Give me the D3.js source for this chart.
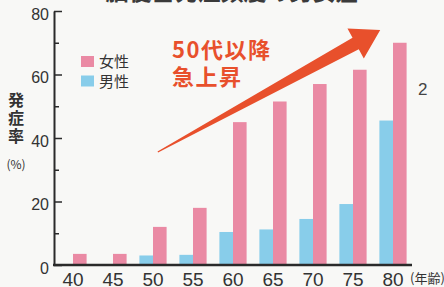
<!DOCTYPE html>
<html><head><meta charset="utf-8">
<script src="https://cdn.jsdelivr.net/npm/d3@7"></script>
<style>
html,body{margin:0;padding:0;background:#f8f8f6;overflow:hidden}
svg{display:block}
</style></head><body>
<svg id="c" width="444" height="287"></svg>
<script>
const ages = ["40","45","50","55","60","65","70","75","80"];
const female = [3.5,3.5,12,18,45,51.5,57,61.5,70];
const male = [0,0,3,3.2,10.4,11.2,14.5,19.2,45.5];
const yMajor = [0,20,40,60,80];
const yMinor = [10,30,50,70];
const titleText = "脳梗塞発症頻度の男女差";
const legendLabels = ["女性","男性"];
const annotLines = ["50代以降","急上昇"];
const arrowFrom = [50.6,35.6];
const arrowTo = [78.4,74];

const pink="#ea8aa4", blue="#88cdea", ink="#2a2a2a", red="#e8502c";
const svg=d3.select("#c");
const x=d3.scaleBand().domain(ages).range([53,413]);
const y=d3.scaleLinear().domain([0,80]).range([265,11]);
const bw=x.step()*0.34;
const xa=d3.scaleLinear().domain([40,80]).range([x("40")+x.bandwidth()/2,x("80")+x.bandwidth()/2]);
const cx=a=>x(a)+x.bandwidth()/2;

// title (cut off at top)
svg.append("text").attr("x",232).attr("y",0).attr("text-anchor","middle")
 .attr("font-family","Noto Sans CJK JP").attr("font-weight","bold").attr("font-size",23)
 .attr("fill","#3a3a3a").text(titleText);

// bars
svg.append("g").selectAll("rect").data(ages).join("rect")
 .attr("x",d=>cx(d)).attr("width",bw)
 .attr("y",(d,i)=>y(female[i])).attr("height",(d,i)=>y(0)-y(female[i])).attr("fill",pink);
svg.append("g").selectAll("rect").data(ages).join("rect")
 .attr("x",d=>cx(d)-bw).attr("width",bw)
 .attr("y",(d,i)=>y(male[i])).attr("height",(d,i)=>y(0)-y(male[i])).attr("fill",blue);

// y axis
const ya=svg.append("g").attr("transform","translate(54,0)")
 .call(d3.axisLeft(y).tickValues(yMajor).tickSizeInner(-8).tickSizeOuter(0).tickPadding(5));
ya.select(".domain").attr("stroke",ink).attr("stroke-width",2);
ya.selectAll(".tick line").attr("stroke",ink).attr("stroke-width",1.5);
ya.selectAll(".tick text").attr("font-family","Liberation Sans, Arial, sans-serif")
 .attr("font-size",16).attr("fill","#333").attr("dy","0.5em");
const ym=svg.append("g").attr("transform","translate(54,0)")
 .call(d3.axisLeft(y).tickValues(yMinor).tickSizeInner(-5).tickSizeOuter(0).tickFormat(""));
ym.select(".domain").remove();
ym.selectAll(".tick line").attr("stroke",ink).attr("stroke-width",1.5);

// x axis
const xaG=svg.append("g").attr("transform","translate(0,265)")
 .call(d3.axisBottom(x).tickSize(0).tickPadding(7));
xaG.select(".domain").attr("d","M53,0H412").attr("stroke",ink).attr("stroke-width",2.5);
xaG.selectAll(".tick text").attr("font-family","Liberation Sans, Arial, sans-serif")
 .attr("font-size",19).attr("fill","#333").attr("dy","0.72em");
svg.append("text").attr("x",410).attr("y",283).attr("font-family","Noto Sans CJK JP")
 .attr("font-size",13).attr("fill","#333").text("(年齢)");

// y title
const yt=svg.append("g").attr("font-family","Noto Sans CJK JP").attr("fill","#333");
["発","症","率"].forEach((c,i)=>yt.append("text").attr("x",16).attr("y",106+i*18)
 .attr("text-anchor","middle").attr("font-size",16).attr("font-weight","bold").text(c));
yt.append("text").attr("x",16).attr("y",169).attr("text-anchor","middle").attr("font-size",12).text("(%)");

// legend
const lg=svg.append("g");
[pink,blue].forEach((c,i)=>{
 lg.append("rect").attr("x",81).attr("y",56+i*19.5).attr("width",13).attr("height",11).attr("fill",c);
 lg.append("text").attr("x",99).attr("y",67+i*19.5).attr("font-family","Noto Sans CJK JP")
  .attr("font-size",15).attr("fill","#333").text(legendLabels[i]);
});

// arrow
const T=[xa(arrowFrom[0]),y(arrowFrom[1])], P=[xa(arrowTo[0]),y(arrowTo[1])];
const dx=P[0]-T[0], dy=P[1]-T[1], L=Math.hypot(dx,dy), u=[dx/L,dy/L], n=[-u[1],u[0]];
const hl=28, hw=17, sw=6.5, tw=0.6;
const B=[P[0]-u[0]*hl,P[1]-u[1]*hl];
const pt=(p,k)=>[p[0]+n[0]*k,p[1]+n[1]*k];
const poly=[pt(T,tw),pt(B,sw),pt(B,hw),P,pt(B,-hw),pt(B,-sw),pt(T,-tw)];
svg.append("path").attr("d","M"+poly.map(p=>p.join(",")).join("L")+"Z").attr("fill",red);

// annotation
annotLines.forEach((t,i)=>svg.append("text").attr("x",172).attr("y",58+i*27)
 .attr("font-family","Noto Sans CJK JP").attr("font-weight","bold").attr("font-size",22)
 .attr("letter-spacing",1.5).attr("fill",red).text(t));

// stray edge text
svg.append("text").attr("x",418).attr("y",95).attr("font-family","Liberation Sans, Arial, sans-serif")
 .attr("font-size",17).attr("fill","#444").text("2");
</script></body></html>
